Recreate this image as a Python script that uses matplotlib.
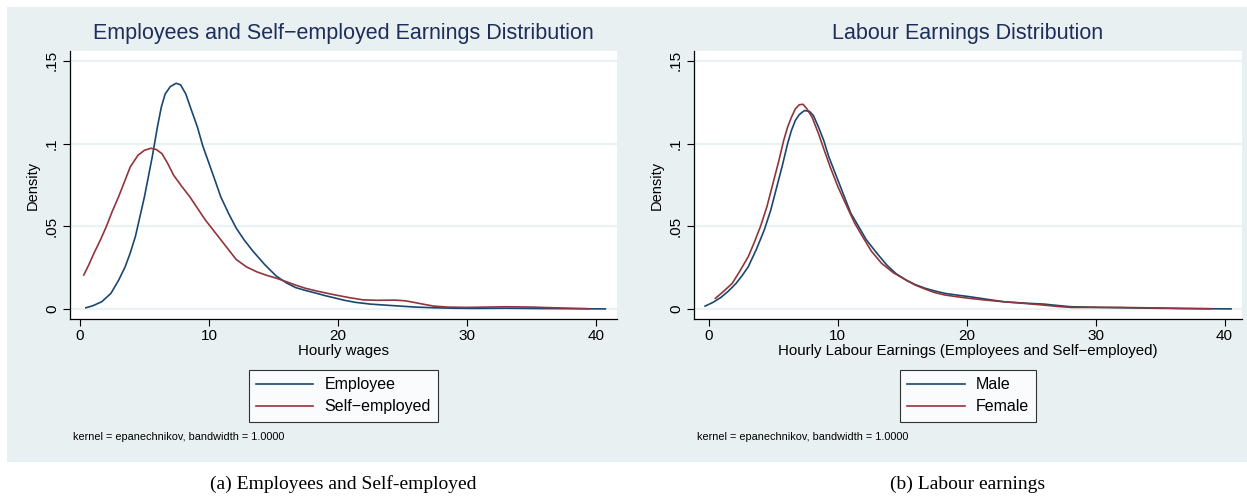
import matplotlib.pyplot as plt
from matplotlib.patches import Rectangle

# values (kernel density estimates)
emp_x = [0.46, 1.0, 1.7, 2.4, 3.0, 3.5, 3.9, 4.3, 4.65, 5.0, 5.6, 6.0, 6.3, 6.6, 7.0, 7.46,
         7.8, 8.2, 8.6, 9.1, 9.5, 10.0, 10.5, 10.9, 11.5, 12.1, 12.7, 13.4, 14.3, 15.2,
         16.0, 16.7, 17.5, 18.3, 19.0, 19.8, 20.5, 21.3, 22.5, 24.4, 26.0, 27.4, 29.0,
         30.5, 33.0, 36.0, 38.5, 40.7]
emp_y = [0.0008, 0.0020, 0.0045, 0.0095, 0.0175, 0.0255, 0.034, 0.044, 0.056, 0.068, 0.092,
         0.110, 0.122, 0.130, 0.1345, 0.1365, 0.1355, 0.130, 0.121, 0.110, 0.099, 0.088,
         0.077, 0.068, 0.058, 0.049, 0.042, 0.035, 0.027, 0.0200, 0.0158, 0.0130, 0.0112,
         0.0096, 0.0081, 0.0066, 0.0053, 0.0041, 0.0030, 0.0020, 0.0012, 0.0008, 0.0005,
         0.0004, 0.0005, 0.0003, 0.0002, 0.0001]

self_x = [0.3, 0.7, 1.1, 1.6, 2.05, 2.5, 3.0, 3.5, 3.9, 4.5, 5.0, 5.5, 5.9, 6.35, 6.8, 7.25,
          7.9, 8.5, 9.1, 9.7, 10.3, 10.9, 11.5, 12.1, 12.9, 13.7, 14.5, 15.2, 16.0, 16.7,
          17.5, 18.3, 19.0, 19.8, 20.8, 21.9, 23.0, 24.4, 25.2, 25.9, 26.7, 27.4, 28.5,
          29.9, 31.5, 33.0, 35.0, 36.6, 38.0, 39.4]
self_y = [0.0206, 0.027, 0.034, 0.042, 0.050, 0.059, 0.068, 0.078, 0.086, 0.093, 0.0960,
          0.0972, 0.0965, 0.094, 0.088, 0.081, 0.074, 0.068, 0.061, 0.054, 0.048, 0.042,
          0.0360, 0.0300, 0.0255, 0.0225, 0.0203, 0.0187, 0.0165, 0.0145, 0.0125, 0.0110,
          0.0098, 0.0085, 0.0070, 0.0056, 0.0053, 0.0054, 0.0050, 0.0040, 0.0028, 0.0018,
          0.0012, 0.0010, 0.0012, 0.0014, 0.0012, 0.0008, 0.0005, 0.0002]

male_x = [-0.3, 0.3, 0.9, 1.5, 2.1, 2.6, 3.05, 3.7, 4.3, 4.8, 5.2, 5.7, 6.1, 6.4, 6.7, 7.0,
          7.4, 7.8, 8.1, 8.5, 8.9, 9.3, 9.8, 10.4, 11.0, 11.6, 12.2, 13.0, 13.8, 14.5,
          15.3, 16.0, 16.8, 17.5, 18.3, 19.2, 20.2, 21.5, 22.9, 24.5, 26.0, 27.0, 28.1,
          30.6, 33.6, 37.0, 40.5]
male_y = [0.0018, 0.0040, 0.0069, 0.0108, 0.0155, 0.0205, 0.0256, 0.0365, 0.048, 0.060,
          0.072, 0.087, 0.100, 0.108, 0.114, 0.1175, 0.1200, 0.1195, 0.117, 0.110, 0.102,
          0.092, 0.082, 0.070, 0.058, 0.050, 0.042, 0.034, 0.0266, 0.0215, 0.0175, 0.0148,
          0.0125, 0.0110, 0.0095, 0.0085, 0.0075, 0.0060, 0.0044, 0.0036, 0.0030, 0.0022,
          0.0014, 0.0010, 0.0006, 0.0003, 0.0001]

female_x = [0.5, 1.1, 1.8, 2.4, 3.05, 3.5, 4.0, 4.5, 4.9, 5.4, 5.8, 6.1, 6.4, 6.7, 7.0, 7.3,
            7.6, 8.0, 8.5, 8.9, 9.4, 10.0, 10.7, 11.3, 11.9, 12.6, 13.4, 14.3, 15.3, 16.0,
            16.8, 17.5, 18.3, 19.2, 20.2, 21.5, 22.9, 24.5, 26.0, 27.0, 28.1, 30.0, 32.0,
            34.5, 36.7, 38.9]
female_y = [0.0065, 0.0105, 0.0155, 0.0230, 0.0317, 0.040, 0.050, 0.062, 0.074, 0.089, 0.102,
            0.110, 0.116, 0.121, 0.1235, 0.1238, 0.121, 0.116, 0.106, 0.097, 0.086, 0.074,
            0.062, 0.052, 0.044, 0.035, 0.0276, 0.0220, 0.0175, 0.0145, 0.0120, 0.0100,
            0.0085, 0.0075, 0.0065, 0.0054, 0.0044, 0.0034, 0.0024, 0.0016, 0.0010, 0.0010,
            0.0010, 0.0007, 0.0004, 0.0002]

y_ticks = [0, 0.05, 0.1, 0.15]
y_tick_labels = ["0", ".05", ".1", ".15"]
x_ticks = [0, 10, 20, 30, 40]

navy = "#1A476F"
maroon = "#90353B"
bg = "#E9F0F2"
grid_col = "#EAF2F3"
title_col = "#1E2E5A"

plt.rcParams['font.family'] = ['Liberation Sans', 'DejaVu Sans']

W, H = 1247, 499
fig = plt.figure(figsize=(W / 100, H / 100), dpi=100)
fig.patches.append(Rectangle((7 / W, 1 - 462 / H), 1 - 7 / W, (462 - 7) / H,
                             transform=fig.transFigure, facecolor=bg, edgecolor='none', zorder=-5))

panels = [
    dict(left=70, right=617, title="Employees and Self\u2212employed Earnings Distribution",
         xlabel="Hourly wages", xlim=(-0.77, 41.6),
         series=[(emp_x, emp_y, navy, "Employee"), (self_x, self_y, maroon, "Self\u2212employed")],
         caption="(a) Employees and Self-employed", note_x=73),
    dict(left=694, right=1242, title="Labour Earnings Distribution",
         xlabel="Hourly Labour Earnings (Employees and Self\u2212employed)", xlim=(-1.16, 41.35),
         series=[(male_x, male_y, navy, "Male"), (female_x, female_y, maroon, "Female")],
         caption="(b) Labour earnings", note_x=697),
]

top, bottom = 51, 319
for p in panels:
    ax = fig.add_axes([p['left'] / W, 1 - bottom / H, (p['right'] - p['left']) / W, (bottom - top) / H])
    ax.set_facecolor('white')
    for yv in y_ticks:
        ax.axhline(yv, color=grid_col, lw=1.6, zorder=1)
    for xs, ys, c, lab in p['series']:
        ax.plot(xs, ys, color=c, lw=1.2, label=lab, zorder=3)
    ax.set_xlim(*p['xlim'])
    ax.set_ylim(-0.006, 0.156)
    ax.set_xticks(x_ticks)
    ax.set_yticks(y_ticks)
    ax.set_yticklabels(y_tick_labels, rotation=90, va='center')
    ax.tick_params(direction='out', length=5, width=0.8, labelsize=11, colors='black')
    ax.tick_params(axis='x', pad=2)
    ax.tick_params(axis='y', pad=3)
    for s in ['top', 'right']:
        ax.spines[s].set_visible(False)
    for s in ['left', 'bottom']:
        ax.spines[s].set_linewidth(0.9)
    ax.set_ylabel("Density", fontsize=10.5, labelpad=4)
    ax.set_xlabel(p['xlabel'], fontsize=10.8, labelpad=1)
    cx = (p['left'] + p['right']) / 2
    fig.text(cx / W, 1 - 33 / H, p['title'], ha='center', va='center', fontsize=15.5, color=title_col)
    leg = ax.legend(loc='upper center', bbox_to_anchor=(cx / W, 1 - 370 / H),
                    bbox_transform=fig.transFigure, frameon=True, fancybox=False,
                    edgecolor='black', fontsize=11.5, handlelength=3.6, handletextpad=0.7,
                    borderpad=0.45, labelspacing=0.45, borderaxespad=0)
    leg.get_frame().set_linewidth(0.8)
    leg.get_frame().set_facecolor('white')
    fig.text(p['note_x'] / W, 1 - 437 / H, "kernel = epanechnikov, bandwidth = 1.0000",
             ha='left', va='center', fontsize=7.8)
    fig.text(cx / W, 1 - 484 / H, p['caption'], ha='center', va='center', fontsize=14,
             family=['Liberation Serif', 'DejaVu Serif'])

fig.savefig("out.png", dpi=100)
